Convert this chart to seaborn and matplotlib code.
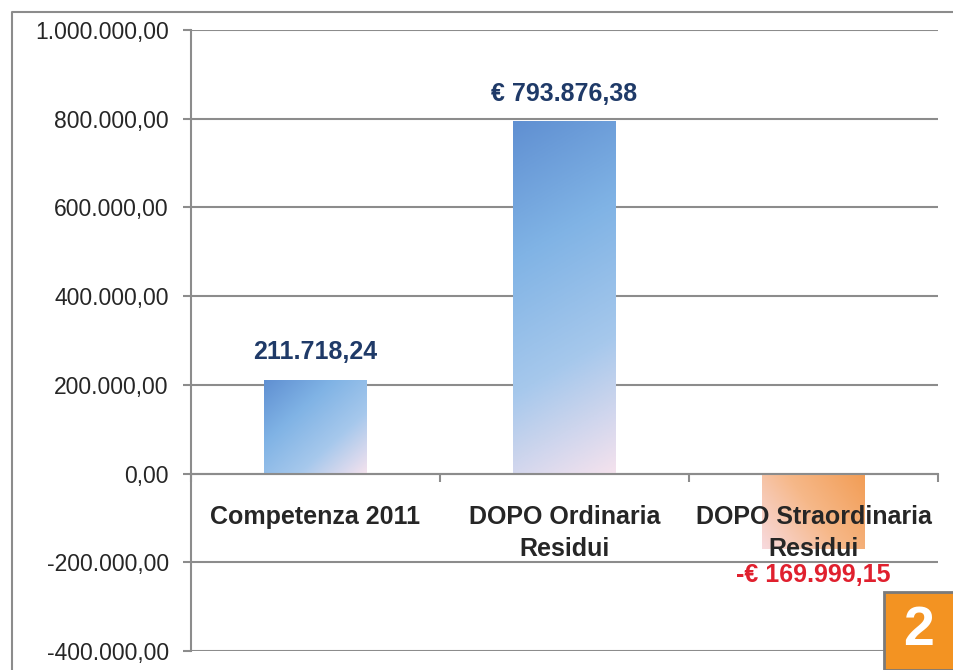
import numpy as np
import pandas as pd
import seaborn as sns
import matplotlib.pyplot as plt
from matplotlib.colors import LinearSegmentedColormap
from matplotlib.patches import Rectangle
from matplotlib.lines import Line2D
from matplotlib.ticker import FuncFormatter

categories = ["Competenza 2011", "DOPO Ordinaria\nResidui", "DOPO Straordinaria\nResidui"]
values = [211718.24, 793876.38, -169999.15]
prefixes = ["", "€ ", "€ "]
yticks = [-400000, -200000, 0, 200000, 400000, 600000, 800000, 1000000]


def it_fmt(v):
    s = f"{abs(v):,.2f}".replace(",", "X").replace(".", ",").replace("X", ".")
    return s


sns.set_style("white")
plt.rcParams['font.family'] = ['Liberation Sans', 'DejaVu Sans']

fig = plt.figure(figsize=(9.54, 6.7), dpi=100)
ax = fig.add_axes([0.2002, 0.0284, 0.7830, 0.9269])

df = pd.DataFrame({"voce": categories, "importo": values})
sns.barplot(data=df, x="voce", y="importo", width=0.41, color="#7aaee0", ax=ax)

ax.set_xlim(-0.5, 2.5)
ax.set_ylim(-400000, 1000000)

blue = LinearSegmentedColormap.from_list("b", ["#6090d2", "#80b3e5", "#a6c8ec", "#f4e2ee"])
orange = LinearSegmentedColormap.from_list("o", ["#f8dade", "#f6b889", "#f29d55"])

for i, p in enumerate(ax.patches):
    x0, w = p.get_x(), p.get_width()
    y0, h = p.get_y(), p.get_height()
    p.set_facecolor("none")
    p.set_edgecolor("none")
    (px0, py0), (px1, py1) = ax.transData.transform([(x0, y0), (x0 + w, y0 + h)])
    ratio = abs(px1 - px0) / max(abs(py1 - py0), 1)
    a = 0.5 * min(1.0, ratio)
    u, v = np.meshgrid(np.linspace(0, 1, 80), np.linspace(0, 1, 80))
    if values[i] >= 0:
        grad = a * u + (1 - a) * v  # row 0 at top
        cmap = blue
    else:
        grad = 0.65 * u + 0.35 * (1 - v)
        cmap = orange
    top, bot = max(y0, y0 + h), min(y0, y0 + h)
    im = ax.imshow(grad, cmap=cmap, extent=(x0, x0 + w, bot, top), origin="upper",
                   aspect="auto", zorder=1.5, interpolation="bilinear")
    im.set_clip_path(p)
    lab = ("-" if values[i] < 0 else "") + prefixes[i] + it_fmt(values[i])
    off = 20 if values[i] >= 0 else -19
    ax.annotate(lab, (x0 + w / 2, y0 + h), xytext=(0, off), textcoords="offset points",
                ha="center", va="center", fontsize=18, fontweight="bold",
                color="#1f3a68" if values[i] >= 0 else "#e0202e", zorder=5)

ax.set_xlim(-0.5, 2.5)
ax.set_ylim(-400000, 1000000)
ax.set_yticks(yticks)
ax.yaxis.set_major_formatter(FuncFormatter(lambda v, _: ("-" if v < 0 else "") + it_fmt(v)))
ax.tick_params(axis="y", labelsize=16.5, length=6, width=1.5, color="#8c8c8c", pad=10, left=True)
ax.yaxis.grid(True, color="#8c8c8c", lw=1.5)
ax.set_axisbelow(True)

ax.set_xticks([])
ax.set_xticks([-0.5, 0.5, 1.5, 2.5], minor=True)
ax.tick_params(axis="x", which="minor", length=6, width=1.5, color="#8c8c8c", bottom=True)
ax.spines["bottom"].set_position(("data", 0))
for s in ["top", "right"]:
    ax.spines[s].set_visible(False)
for s in ["left", "bottom"]:
    ax.spines[s].set_color("#8c8c8c")
    ax.spines[s].set_linewidth(1.5)
ax.set_xlabel("")
ax.set_ylabel("")

for i, c in enumerate(categories):
    ax.annotate(c, (i, 0), xytext=(0, -22.5), textcoords="offset points", ha="center",
                va="top", fontsize=18, fontweight="bold", linespacing=1.45,
                zorder=6)

# cornice esterna
fig.add_artist(Line2D([12 / 954, 12 / 954, 1], [0, 1 - 12 / 670, 1 - 12 / 670],
                      transform=fig.transFigure, color="#8c8c8c", lw=1.5))
fig.add_artist(Rectangle((884 / 954, 0), 72 / 954, 78 / 670, transform=fig.transFigure,
                         facecolor="#f39322", edgecolor="#7a7a7a", lw=2, zorder=10))
fig.text(919 / 954, 39 / 670, "2", color="white", fontsize=40, fontweight="bold",
         ha="center", va="center", zorder=11)

plt.savefig("out.png", dpi=100)
